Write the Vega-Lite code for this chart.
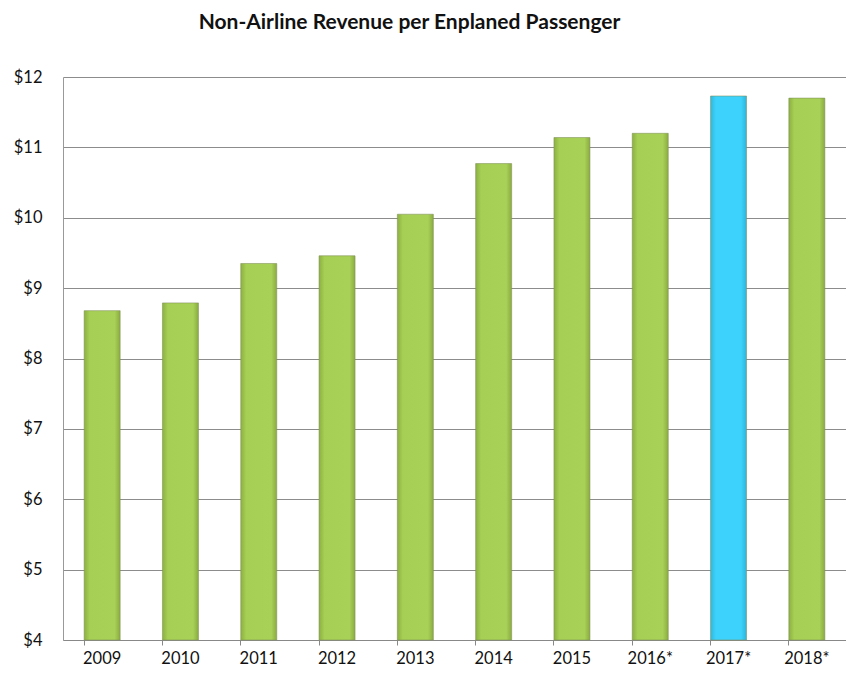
{
  "$schema": "https://vega.github.io/schema/vega-lite/v6.json",
  "width": 783,
  "height": 563,
  "autosize": "none",
  "padding": {"left": 63, "top": 77, "right": 0, "bottom": 33},
  "background": "white",
  "title": {
    "text": "Non-Airline Revenue per Enplaned Passenger",
    "font": "Lato",
    "fontSize": 21,
    "fontWeight": "bold",
    "color": "#111111",
    "anchor": "middle",
    "dx": -45,
    "offset": 36
  },
  "data": {
    "values": [
      {"year": "2009", "value": 8.68},
      {"year": "2010", "value": 8.79},
      {"year": "2011", "value": 9.35},
      {"year": "2012", "value": 9.46},
      {"year": "2013", "value": 10.05},
      {"year": "2014", "value": 10.77},
      {"year": "2015", "value": 11.14},
      {"year": "2016*", "value": 11.2},
      {"year": "2017*", "value": 11.73},
      {"year": "2018*", "value": 11.7}
    ]
  },
  "config": {
    "view": {"stroke": null},
    "font": "Lato"
  },
  "mark": {"type": "bar", "stroke": "#7f8f5a", "strokeWidth": 0.8, "strokeOpacity": 0.7},
  "encoding": {
    "x": {
      "field": "year",
      "type": "ordinal",
      "sort": null,
      "scale": {"paddingInner": 0.54, "paddingOuter": 0.27},
      "axis": {
        "title": null,
        "labelAngle": 0,
        "labelFontSize": 16.5,
        "labelColor": "#111111",
        "labelPadding": 5,
        "bandPosition": 0,
        "ticks": true,
        "tickSize": 5,
        "tickColor": "#888888",
        "domainColor": "#888888",
        "grid": false
      }
    },
    "y": {
      "field": "value",
      "type": "quantitative",
      "scale": {"domain": [4, 12], "nice": false, "zero": false},
      "axis": {
        "title": null,
        "values": [4, 5, 6, 7, 8, 9, 10, 11, 12],
        "labelExpr": "'$' + datum.value",
        "labelFontSize": 16.5,
        "labelColor": "#111111",
        "labelPadding": 21,
        "labelOverlap": false,
        "ticks": false,
        "grid": true,
        "gridColor": "#8c8c8c",
        "gridWidth": 1,
        "domainColor": "#999999"
      }
    },
    "y2": {"datum": 4},
    "color": {
      "condition": {
        "test": "datum.year === '2017*'",
        "value": {
          "gradient": "linear",
          "x1": 0, "y1": 0, "x2": 1, "y2": 0,
          "stops": [
            {"offset": 0, "color": "#2fb8de"},
            {"offset": 0.15, "color": "#3cd2fb"},
            {"offset": 0.85, "color": "#3cd2fb"},
            {"offset": 1, "color": "#2fb3d8"}
          ]
        }
      },
      "value": {
        "gradient": "linear",
        "x1": 0, "y1": 0, "x2": 1, "y2": 0,
        "stops": [
          {"offset": 0, "color": "#8cb040"},
          {"offset": 0.15, "color": "#a6cf55"},
          {"offset": 0.85, "color": "#a8d158"},
          {"offset": 1, "color": "#8aab3e"}
        ]
      }
    }
  }
}
